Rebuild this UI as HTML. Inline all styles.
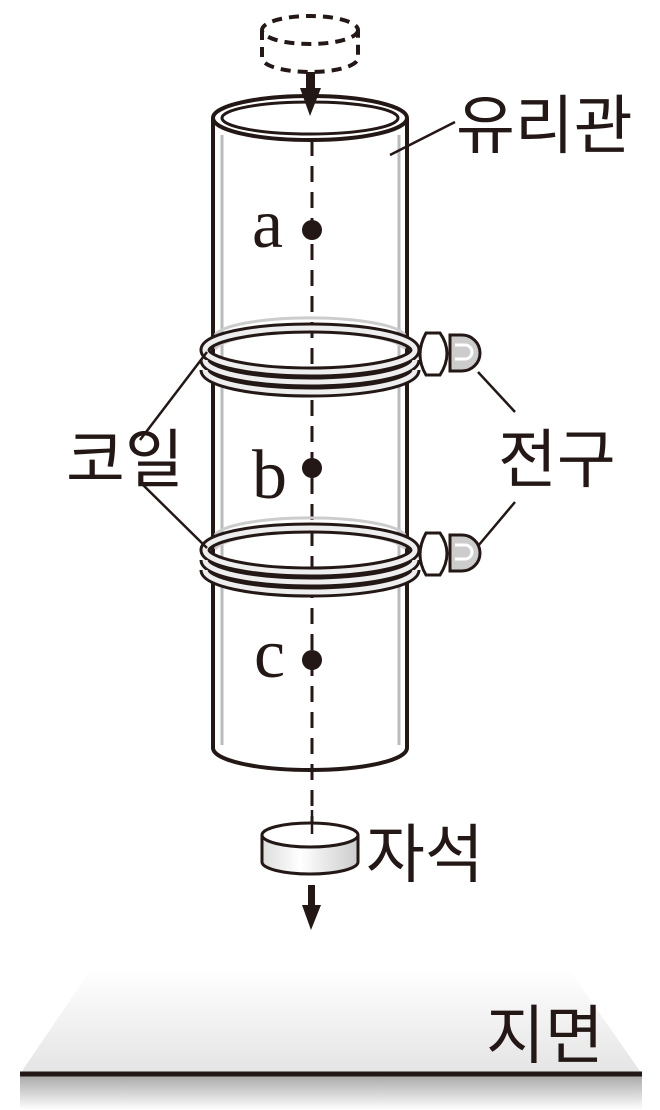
<!DOCTYPE html>
<html><head><meta charset="utf-8"><style>
body{margin:0;width:660px;height:1110px;background:#fff;overflow:hidden}
svg{display:block}
.k{font-family:"Liberation Sans","Noto Sans CJK KR",sans-serif;font-size:64px;fill:#231815}
.s{font-family:"Liberation Serif",serif;font-size:70px;fill:#231815}
</style></head><body>
<svg width="660" height="1110" viewBox="0 0 660 1110">
<defs>
<linearGradient id="g" x1="0" y1="0" x2="0" y2="1"><stop offset="0" stop-color="#fff"/><stop offset="1" stop-color="#e4e4e4"/></linearGradient>
<linearGradient id="g2" x1="0" y1="0" x2="0" y2="1"><stop offset="0" stop-color="#aaa"/><stop offset="1" stop-color="#fff"/></linearGradient>
<linearGradient id="m" x1="0" y1="0" x2="1" y2="0"><stop offset="0" stop-color="#ddd"/><stop offset=".4" stop-color="#fff"/><stop offset="1" stop-color="#ccc"/></linearGradient>
</defs>
<polygon points="92,968 568,968 642,1074 20,1074" fill="url(#g)"/>
<rect x="20" y="1076" width="622" height="34" fill="url(#g2)"/>
<line x1="20" y1="1074" x2="642" y2="1074" stroke="#231815" stroke-width="5"/>
<text class="k" x="486" y="1058">지면</text>
<g fill="none" stroke="#231815" stroke-width="4" stroke-dasharray="10 7">
<ellipse cx="310" cy="30" rx="48" ry="14"/>
<path d="M262,30 V58 A48,14 0 0 0 358,58 V30"/>
</g>
<path d="M213,118 V748 A97,22 0 0 0 407,748 V118" fill="#fff" stroke="#231815" stroke-width="4"/>
<line x1="222" y1="135" x2="222" y2="745" stroke="#bbb" stroke-width="3"/>
<line x1="399" y1="135" x2="399" y2="745" stroke="#bbb" stroke-width="3"/>
<ellipse cx="310" cy="118" rx="97" ry="22" fill="#fff" stroke="#231815" stroke-width="4"/>
<ellipse cx="310" cy="118" rx="88" ry="16" fill="none" stroke="#231815" stroke-width="3"/>
<line x1="312" y1="140" x2="312" y2="825" stroke="#231815" stroke-width="3" stroke-dasharray="16 10"/>
<rect x="306" y="72" width="9" height="18" fill="#231815"/>
<polygon points="300,88 321,88 310,116" fill="#231815"/>
<g id="coil">
<g fill="none" stroke="#ccc" stroke-width="3">
<path d="M215,335 A96,20 0 0 1 405,335"/>
<path d="M215,342 A96,20 0 0 1 405,342"/>
<path d="M215,349 A96,20 0 0 1 405,349"/>
</g>
<g fill="none" stroke="#231815" stroke-width="11"><path d="M205,350 A105,22 0 0 0 415,350"/><path d="M205,360 A105,22 0 0 0 415,360"/><path d="M205,370 A105,22 0 0 0 415,370"/></g>
<g fill="none" stroke="#eee" stroke-width="5"><path d="M205,350 A105,22 0 0 0 415,350"/><path d="M205,360 A105,22 0 0 0 415,360"/><path d="M205,370 A105,22 0 0 0 415,370"/></g>
<path d="M205,350 A105,22 0 0 1 415,350" fill="none" stroke="#231815" stroke-width="11"/>
<path d="M205,350 A105,22 0 0 1 415,350" fill="none" stroke="#eee" stroke-width="5"/>
<path d="M450,335 h12 a18,18 0 0 1 0,36 h-12 z" fill="#ccc" stroke="#231815" stroke-width="3"/>
<path d="M455,345 h10 a7,7 0 0 1 0,14 h-10" fill="none" stroke="#fff" stroke-width="3"/>
<path d="M426,333 h14 q14,20 0,42 h-14 q-12,-20 0,-42z" fill="#fff" stroke="#231815" stroke-width="3"/>
</g>
<use href="#coil" transform="translate(0,200)"/>
<circle cx="312" cy="230" r="10" fill="#231815"/>
<circle cx="312" cy="468" r="10" fill="#231815"/>
<circle cx="312" cy="660" r="10" fill="#231815"/>
<text class="s" x="252" y="247">a</text>
<text class="s" x="252" y="498">b</text>
<text class="s" x="254" y="677">c</text>
<g stroke="#231815" stroke-width="2.5" fill="none">
<line x1="390" y1="155" x2="455" y2="122"/>
<line x1="140" y1="440" x2="207" y2="352"/>
<line x1="140" y1="482" x2="207" y2="548"/>
<line x1="478" y1="372" x2="515" y2="412"/>
<line x1="478" y1="546" x2="515" y2="502"/>
</g>
<text class="k" x="456" y="148">유리관</text>
<text class="k" x="66" y="482">코일</text>
<text class="k" x="498" y="482">전구</text>
<path d="M262,835 V862 A48,12 0 0 0 358,862 V835" fill="url(#m)" stroke="#231815" stroke-width="3"/>
<ellipse cx="310" cy="835" rx="48" ry="12" fill="#fff" stroke="#231815" stroke-width="3"/>
<line x1="312" y1="810" x2="312" y2="834" stroke="#231815" stroke-width="2.5"/>
<rect x="308" y="885" width="7" height="24" fill="#231815"/>
<polygon points="302,905 321,905 311,930" fill="#231815"/>
<text class="k" x="366" y="877">자석</text>
</svg>
</body></html>
